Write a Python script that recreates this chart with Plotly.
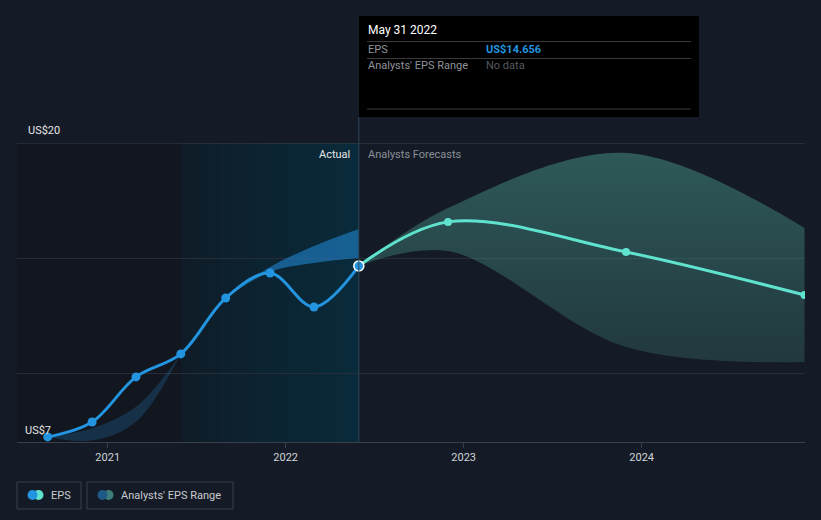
import plotly.graph_objects as go
import pandas as pd

# ---------------- data ----------------
eps_dates = ["2020-08-31", "2020-11-30", "2021-02-28", "2021-05-31",
             "2021-08-31", "2021-11-30", "2022-02-28", "2022-05-31"]
eps_values = [7.22, 7.87, 9.83, 10.83, 13.26, 14.35, 12.87, 14.656]

fc_dates = ["2022-05-31", "2022-11-30", "2023-11-30", "2024-11-30"]
fc_values = [14.656, 16.57, 15.26, 13.39]
fc_low = [14.656, 15.3, 11.13, 10.48]
fc_high = [14.656, 17.17, 19.57, 16.3]

past1_dates = ["2020-08-31", "2020-11-30", "2021-02-28", "2021-05-31"]
past1_low = [7.22, 7.06, 7.88, 10.83]
past1_high = [7.22, 7.60, 8.53, 10.83]

past2_dates = ["2021-08-31", "2021-11-30", "2022-02-28", "2022-05-31"]
past2_low = [13.26, 14.39, 14.78, 15.0]
past2_high = [13.26, 14.61, 15.52, 16.26]

tick_vals = ["2021-01-01", "2022-01-01", "2023-01-01", "2024-01-01"]
tick_text = ["2021", "2022", "2023", "2024"]
x_range = ["2020-06-29", "2024-12-01"]
y_range = [7, 20]
y_grid = [10, 15, 20]

actual_start = "2021-05-31"
today = "2022-05-31"

# ---------------- style ----------------
BG = "#151b26"
FONT = "Roboto"
BLUE = "#2394df"
TEAL = "#5fe3cf"

W, H = 821, 520
ML, MR, MT, MB = 17, 16, 143, 78
PW, PH = W - ML - MR, H - MT - MB


def px(p):
    return (p - ML) / PW


def py(p):
    return (H - MB - p) / PH


fig = go.Figure()

# past analyst range bands
fig.add_trace(go.Scatter(x=past1_dates, y=past1_low, mode="lines",
                         line=dict(width=0, shape="spline"), hoverinfo="skip"))
fig.add_trace(go.Scatter(x=past1_dates, y=past1_high, mode="lines", fill="tonexty",
                         fillcolor="rgba(35,140,220,0.22)",
                         line=dict(width=0, shape="spline"), hoverinfo="skip"))
fig.add_trace(go.Scatter(x=past2_dates, y=past2_low, mode="lines",
                         line=dict(width=0, shape="spline"), hoverinfo="skip"))
fig.add_trace(go.Scatter(x=past2_dates, y=past2_high, mode="lines", fill="tonexty",
                         fillcolor="rgba(35,140,220,0.55)",
                         line=dict(width=0, shape="spline"), hoverinfo="skip"))

# forecast range band
fig.add_trace(go.Scatter(x=fc_dates, y=fc_low, mode="lines",
                         line=dict(width=0, shape="spline"), hoverinfo="skip"))
fig.add_trace(go.Scatter(x=fc_dates, y=fc_high, mode="lines", fill="tonexty",
                         fillcolor="rgba(72,150,140,0.4)",
                         fillgradient=dict(type="vertical", start=19.6, stop=10.5,
                                           colorscale=[[0, "rgba(72,150,140,0.5)"],
                                                       [1, "rgba(72,150,140,0.24)"]]),
                         line=dict(width=0, shape="spline"), hoverinfo="skip"))

# EPS lines
fig.add_trace(go.Scatter(x=fc_dates, y=fc_values, mode="lines+markers",
                         line=dict(color=TEAL, width=3, shape="spline"),
                         marker=dict(size=8, color=TEAL), hoverinfo="skip"))
fig.add_trace(go.Scatter(x=eps_dates, y=eps_values, mode="lines+markers",
                         line=dict(color=BLUE, width=3, shape="spline"),
                         marker=dict(size=9, color=BLUE), hoverinfo="skip"))
fig.add_trace(go.Scatter(x=[eps_dates[-1]], y=[eps_values[-1]], mode="markers",
                         marker=dict(size=10, color=BLUE, line=dict(color="white", width=1.5)),
                         hoverinfo="skip"))

shapes = []
# dark region before the "actual" window
shapes.append(dict(type="rect", xref="x", yref="paper", x0=x_range[0], x1=actual_start,
                   y0=0, y1=1, fillcolor="#12161e", line=dict(width=0), layer="below"))
# gradient "actual" window (overlapping slices to avoid seams)
t0 = pd.Timestamp(actual_start)
t1 = pd.Timestamp(today)
N = 40
c0 = (15, 28, 40)
c1 = (9, 43, 59)
for i in range(N):
    a = t0 + (t1 - t0) * i / N
    f = (i + 0.5) / N
    col = "rgb(%d,%d,%d)" % tuple(round(c0[k] + (c1[k] - c0[k]) * f) for k in range(3))
    shapes.append(dict(type="rect", xref="x", yref="paper", x0=a, x1=t1, y0=0, y1=1,
                       fillcolor=col, line=dict(width=0), layer="below"))
# vertical today line
shapes.append(dict(type="line", xref="x", yref="paper", x0=today, x1=today,
                   y0=0, y1=py(117), line=dict(color="#2e4656", width=1)))
# tooltip box
shapes.append(dict(type="rect", xref="paper", yref="paper", x0=px(359), x1=px(699),
                   y0=py(117), y1=py(16), fillcolor="#000000", line=dict(width=0)))
for yy in (41.5, 58.5, 109):
    shapes.append(dict(type="line", xref="paper", yref="paper", x0=px(367), x1=px(691),
                       y0=py(yy), y1=py(yy), line=dict(color="#3a3a3a", width=1)))
# top gridline brighter
shapes.append(dict(type="line", xref="paper", yref="y", x0=0, x1=1, y0=20, y1=20,
                   line=dict(color="#3a404b", width=1)))
# legend boxes
shapes.append(dict(type="rect", xref="paper", yref="paper", x0=px(17), x1=px(81),
                   y0=py(509), y1=py(482), line=dict(color="#3a404b", width=1),
                   fillcolor="rgba(0,0,0,0)"))
shapes.append(dict(type="rect", xref="paper", yref="paper", x0=px(87), x1=px(233),
                   y0=py(509), y1=py(482), line=dict(color="#3a404b", width=1),
                   fillcolor="rgba(0,0,0,0)"))


def circ(cx, cy, r, col):
    return dict(type="circle", xref="paper", yref="paper", x0=px(cx - r), x1=px(cx + r),
                y0=py(cy + r), y1=py(cy - r), fillcolor=col, line=dict(width=0))


shapes.append(circ(38.5, 495, 5, TEAL))
shapes.append(circ(32.5, 495, 5, BLUE))
shapes.append(circ(108.5, 495, 5, "#3d7f78"))
shapes.append(circ(102.5, 495, 5, "#1f5a86"))

ann = []


def text(x, y, s, color, size, anchor="left", bold=False):
    ann.append(dict(xref="paper", yref="paper", x=px(x), y=py(y), text=("<b>%s</b>" % s) if bold else s,
                    showarrow=False, xanchor=anchor, yanchor="middle",
                    font=dict(family=FONT, size=size, color=color)))


text(26, 130, "US$%d" % y_range[1], "#e6e6e6", 11)
text(23, 430, "US$%d" % y_range[0], "#e6e6e6", 11)
text(352, 154, "Actual", "#e8e8e8", 11, anchor="right")
text(366, 154, "Analysts Forecasts", "#8a8f98", 11)
d = pd.Timestamp(today)
text(366, 30, "%s %d %d" % (d.strftime("%b"), d.day, d.year), "#ffffff", 12)
text(366, 49, "EPS", "#8f939a", 11)
text(484, 49, "US$%.3f" % eps_values[-1], BLUE, 11, bold=True)
text(366, 66, "Analysts' EPS Range", "#8f939a", 11)
text(484, 66, "No data", "#55595f", 11)
text(49, 495, "EPS", "#c8cbd0", 11)
text(119, 495, "Analysts' EPS Range", "#c8cbd0", 11)

fig.update_layout(
    width=W, height=H,
    margin=dict(l=ML, r=MR, t=MT, b=MB),
    paper_bgcolor=BG, plot_bgcolor=BG,
    showlegend=False,
    shapes=shapes, annotations=ann,
    font=dict(family=FONT, color="#d0d3d8"),
    xaxis=dict(type="date", range=x_range, tickvals=tick_vals, ticktext=tick_text,
               showgrid=False, zeroline=False, showline=True, linecolor="#3a404b",
               ticks="outside", ticklen=5, tickcolor="#3a404b",
               tickfont=dict(family=FONT, size=11, color="#d0d3d8")),
    yaxis=dict(range=y_range, tickvals=y_grid, showticklabels=False,
               showgrid=True, gridcolor="#262d38", zeroline=False, fixedrange=True),
    hovermode=False,
)

fig.write_html("out.html")
